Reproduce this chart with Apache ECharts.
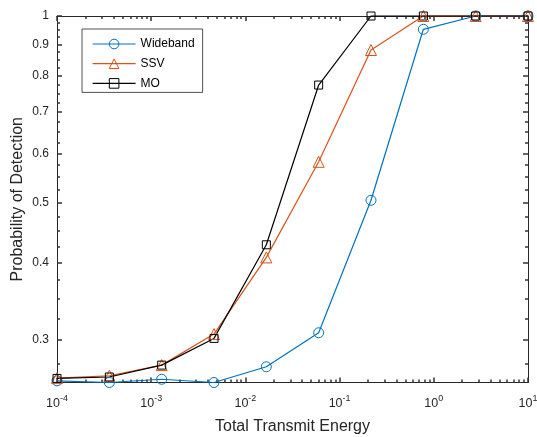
<!DOCTYPE html>
<html>
<head>
<meta charset="utf-8">
<script src="https://cdn.jsdelivr.net/npm/echarts@6/dist/echarts.min.js"></script>
<style>
  html, body { margin: 0; padding: 0; background: #fff; }
  #chart { width: 537px; height: 437px; }
</style>
</head>
<body>
<div id="chart"></div>
<script>
// energy values (log spaced) and detection probabilities
var xValues = [1e-4, 3.594e-4, 1.292e-3, 4.642e-3, 1.668e-2, 5.995e-2, 0.2154, 0.7743, 2.783, 10];
var wideband = [0.2578, 0.2562, 0.2593, 0.2562, 0.2716, 0.3082, 0.5042, 0.9518, 1, 1];
var ssv = [0.2604, 0.2627, 0.2733, 0.3067, 0.4078, 0.5817, 0.8813, 1, 1, 1];
var mo = [0.2601, 0.2615, 0.2733, 0.3018, 0.4274, 0.7737, 1, 1, 1, 1];

var seriesNames = ['Wideband', 'SSV', 'MO'];
var colors = ['#0072BD', '#D95319', '#000000'];

// tick labels
var xTickExp = [-4, -3, -2, -1, 0, 1];
var yTicks = [0.3, 0.4, 0.5, 0.6, 0.7, 0.8, 0.9, 1];
var yMin = 0.2562;

// minor ticks: 2..9 per decade on x, 0.025 steps on y
var xMinor = [];
for (var e = -4; e < 1; e++) {
    for (var k = 2; k <= 9; k++) xMinor.push(Math.log10(k * Math.pow(10, e)));
}
var yMinor = [];
for (var v = 0.275; v < 1; v += 0.025) {
    var r = Math.round(v * 1000) / 1000;
    if (Math.round(r * 1000) % 100 !== 0) yMinor.push(Math.log10(r));
}

var axisColor = '#262626';
var fontFamily = 'Liberation Sans, Arial, Helvetica, sans-serif';

function toPairs(ys) {
    return xValues.map(function (x, i) { return [Math.log10(x), Math.log10(ys[i])]; });
}

// one axis per tick set, so major and minor ticks get their own length
function tickAxis(pos, min, max, ticks, len, showLine) {
    return {
        type: 'value',
        position: pos,
        min: min,
        max: max,
        axisLine: { show: showLine, onZero: false, lineStyle: { color: axisColor, width: 1 } },
        axisTick: { show: true, inside: true, length: len, customValues: ticks, lineStyle: { color: '#333', width: 1.5 } },
        axisLabel: { show: false },
        splitLine: { show: false }
    };
}

var xMajor = xTickExp.slice();
var yMajor = yTicks.map(function (t) { return Math.log10(t); });
var yLo = Math.log10(yMin);

var xBottom = tickAxis('bottom', -4, 1, xMajor, 5, true);
xBottom.axisLabel = {
    show: true,
    customValues: xMajor,
    margin: 12,
    formatter: function (val) { return '{b|10}{s|' + val + '}'; },
    rich: {
        b: { fontSize: 12.5, fontFamily: fontFamily, color: axisColor, verticalAlign: 'bottom', lineHeight: 16 },
        s: { fontSize: 9, fontFamily: fontFamily, color: axisColor, verticalAlign: 'bottom', lineHeight: 16, padding: [0, 0, 7, 0] }
    }
};
xBottom.name = 'Total Transmit Energy';
xBottom.nameLocation = 'middle';
xBottom.nameGap = 36;
xBottom.nameTextStyle = { fontSize: 16, fontFamily: fontFamily, color: axisColor };

var yLeft = tickAxis('left', yLo, 0, yMajor, 5, true);
yLeft.axisLabel = {
    show: true,
    customValues: yMajor,
    margin: 8,
    fontSize: 12,
    fontFamily: fontFamily,
    color: axisColor,
    formatter: function (val) { return String(Math.round(Math.pow(10, val) * 10) / 10); }
};
yLeft.name = 'Probability of Detection';
yLeft.nameLocation = 'middle';
yLeft.nameGap = 31;
yLeft.nameMoveOverlap = false;
yLeft.nameTextStyle = { fontSize: 16, fontFamily: fontFamily, color: axisColor };

var chart = echarts.init(document.getElementById('chart'));

var series = [wideband, ssv, mo].map(function (ys, i) {
    var sym = ['circle', 'triangle', 'rect'][i];
    var size = [10, 11, 8][i];
    return {
        name: seriesNames[i],
        type: 'line',
        xAxisIndex: 0,
        yAxisIndex: 0,
        data: toPairs(ys),
        symbol: sym,
        symbolSize: size,
        showAllSymbol: true,
        clip: false,
        animation: false,
        lineStyle: { color: colors[i], width: 1.2 },
        itemStyle: { color: 'rgba(255,255,255,0)', borderColor: colors[i], borderWidth: 1 },
        emphasis: { disabled: true }
    };
});

var option = {
    animation: false,
    color: colors,
    grid: { left: 57, right: 9, top: 16, bottom: 54.5, outerBoundsMode: 'none' },
    legend: {
        data: seriesNames,
        orient: 'vertical',
        left: 82,
        top: 29,
        padding: [9, 8, 3, 10],
        itemWidth: 43,
        itemHeight: 12,
        itemGap: 7.7,
        backgroundColor: '#fff',
        borderColor: axisColor,
        borderWidth: 0.8,
        borderRadius: 0,
        lineStyle: { width: 1.2 },
        itemStyle: { borderWidth: 1 },
        textStyle: { fontSize: 12, fontFamily: fontFamily, color: '#000' }
    },
    xAxis: [
        xBottom,
        tickAxis('bottom', -4, 1, xMinor, 3, false),
        tickAxis('top', -4, 1, xMajor, 5, true),
        tickAxis('top', -4, 1, xMinor, 3, false)
    ],
    yAxis: [
        yLeft,
        tickAxis('left', yLo, 0, yMinor, 3, false),
        tickAxis('right', yLo, 0, yMajor, 5, true),
        tickAxis('right', yLo, 0, yMinor, 3, false)
    ],
    series: series
};

chart.setOption(option);
</script>
</body>
</html>
